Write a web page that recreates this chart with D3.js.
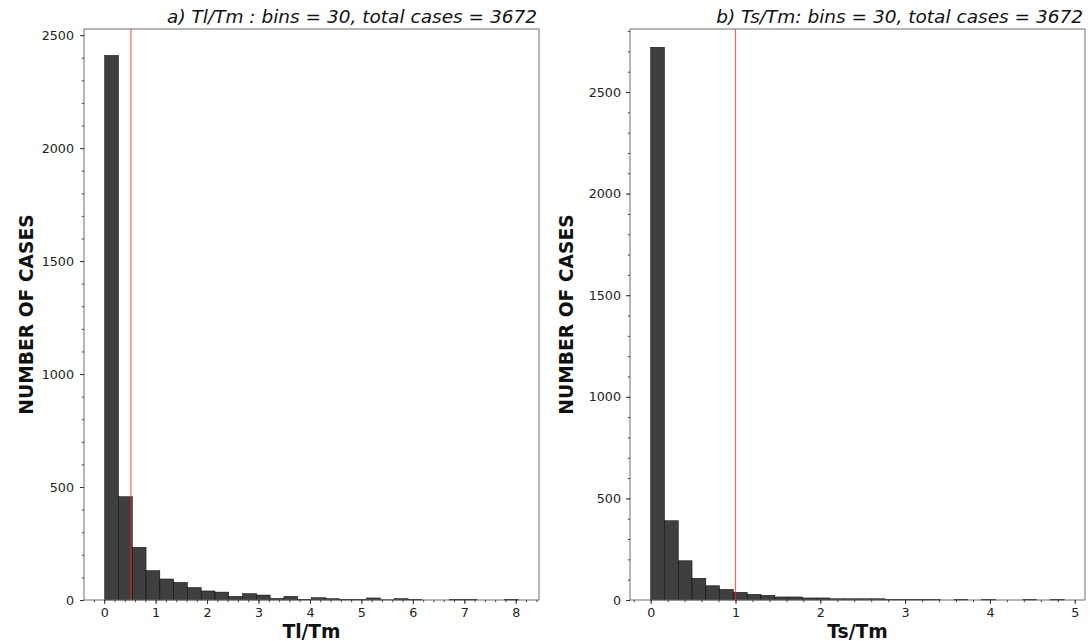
<!DOCTYPE html>
<html><head><meta charset="utf-8">
<script src="https://cdn.jsdelivr.net/npm/d3@7"></script>
<style>body{margin:0;background:#fff}svg{display:block}text{font-family:"DejaVu Sans",sans-serif}</style>
</head><body>
<svg id="c" width="1090" height="641"></svg>
<script>
// ---- data ----
const countsA = [2410,457,233,130,93,78,55,40,35,16,28,22,7,16,3,10,6,3,3,9,1,6,3,0,0,3,3,0,0,3];
const rangeA = [0.01, 8.05];
const refLineA = 0.52;
const titleA = "a) Tl/Tm : bins = 30, total cases = 3672";
const xLabelA = "Tl/Tm";
const xTicksA = [0,1,2,3,4,5,6,7,8];
const yTicksA = [0,500,1000,1500,2000,2500];
const yMaxA = 2527;

const countsB = [2720,390,193,107,70,52,38,28,23,15,15,10,10,6,6,6,6,3,3,3,3,0,3,0,3,0,0,3,0,3];
const rangeB = [0.0, 4.877];
const refLineB = 1.0;
const titleB = "b) Ts/Tm: bins = 30, total cases = 3672";
const xLabelB = "Ts/Tm";
const xTicksB = [0,1,2,3,4,5];
const yTicksB = [0,500,1000,1500,2000,2500];
const yMaxB = 2810;

const yLabel = "NUMBER OF CASES";

const svg = d3.select("#c");

function panel(o){
  const {left,right,top,bottom,counts,range,refLine,title,xLabel,xTicks,yTicks,yMax,yLabX,yPad} = o;
  const n = counts.length;
  const w = (range[1]-range[0])/n;
  const pad = 0.05*(range[1]-range[0]);
  const x = d3.scaleLinear().domain([range[0]-pad, range[1]+pad]).range([left,right]);
  const y = d3.scaleLinear().domain([0,yMax]).range([bottom,top]);
  const g = svg.append("g");
  const bins = counts.map((c,i)=>({x0:range[0]+i*w, x1:range[0]+(i+1)*w, c}));
  g.selectAll("rect.bar").data(bins).join("rect").attr("class","bar")
    .attr("x",d=>x(d.x0)).attr("width",d=>x(d.x1)-x(d.x0))
    .attr("y",d=>y(d.c)).attr("height",d=>y(0)-y(d.c))
    .attr("fill","#3f3f3f").attr("stroke","#000").attr("stroke-width",0.5);
  g.append("line").attr("x1",x(refLine)).attr("x2",x(refLine)).attr("y1",top).attr("y2",bottom)
    .attr("stroke","#ff2020").attr("stroke-opacity",0.7).attr("stroke-width",1.2);
  // frame
  g.append("rect").attr("x",left).attr("y",top).attr("width",right-left).attr("height",bottom-top)
    .attr("fill","none").attr("stroke","#6e6e6e").attr("stroke-width",1);
  // x axis
  const xMinor = d3.range(Math.ceil((range[0]-pad)/0.2)*0.2, range[1]+pad, 0.2);
  const xa = svg.append("g").attr("transform",`translate(0,${bottom})`)
    .call(d3.axisBottom(x).tickValues(xMinor).tickSize(2.2).tickFormat(""));
  xa.select(".domain").remove(); xa.selectAll("line").attr("stroke","#444");
  const xb = svg.append("g").attr("transform",`translate(0,${bottom})`)
    .call(d3.axisBottom(x).tickValues(xTicks).tickSize(4).tickPadding(4).tickFormat(d3.format("d")));
  xb.select(".domain").remove(); xb.selectAll("line").attr("stroke","#333");
  xb.selectAll("text").attr("font-size","12.7px").attr("fill","#222").attr("font-family","DejaVu Sans");
  // y axis
  const yMinor = d3.range(0, yMax, 100);
  const ya = svg.append("g").attr("transform",`translate(${left},0)`)
    .call(d3.axisLeft(y).tickValues(yMinor).tickSize(2.2).tickFormat(""));
  ya.select(".domain").remove(); ya.selectAll("line").attr("stroke","#444");
  const yb = svg.append("g").attr("transform",`translate(${left},0)`)
    .call(d3.axisLeft(y).tickValues(yTicks).tickSize(4).tickPadding(yPad).tickFormat(d3.format("d")));
  yb.select(".domain").remove(); yb.selectAll("line").attr("stroke","#333");
  yb.selectAll("text").attr("font-size","12.7px").attr("fill","#222").attr("font-family","DejaVu Sans");
  // labels
  svg.append("text").attr("x",right-2).attr("y",top-6).attr("text-anchor","end")
    .attr("font-size","18.5px").attr("font-style","italic").attr("fill","#111").text(title);
  svg.append("text").attr("x",(left+right)/2).attr("y",bottom+38).attr("text-anchor","middle")
    .attr("font-size","18.7px").attr("font-weight","bold").attr("fill","#111").text(xLabel);
  svg.append("text").attr("transform",`translate(${yLabX},${(top+bottom)/2}) rotate(-90)`)
    .attr("text-anchor","middle").attr("font-size","18.7px").attr("font-weight","bold").attr("fill","#111").text(yLabel);
}

panel({left:84,right:539,top:29,bottom:600,counts:countsA,range:rangeA,refLine:refLineA,title:titleA,
  xLabel:xLabelA,xTicks:xTicksA,yTicks:yTicksA,yMax:yMaxA,yLabX:33,yPad:6});
panel({left:630,right:1085,top:29,bottom:600,counts:countsB,range:rangeB,refLine:refLineB,title:titleB,
  xLabel:xLabelB,xTicks:xTicksB,yTicks:yTicksB,yMax:yMaxB,yLabX:573,yPad:5});
</script>
</body></html>
